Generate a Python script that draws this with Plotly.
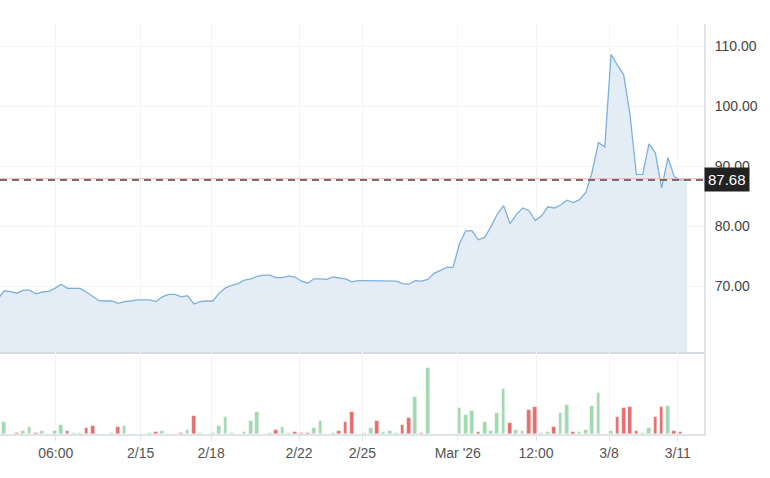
import plotly.graph_objects as go
from plotly.subplots import make_subplots

# closing price per bar (bar index 0 sits just left of the visible area)
price = [67.9, 69.2, 69.05, 68.8, 69.3, 69.3, 68.7, 69.0, 69.1, 69.6, 70.3,
         69.6, 69.6, 69.6, 69.0, 68.2, 67.55, 67.5, 67.5, 67.1, 67.4,
         67.5, 67.7, 67.7, 67.7, 67.4, 68.2, 68.6, 68.6, 68.2, 68.4,
         67.0, 67.4, 67.5, 67.5, 68.8, 69.7, 70.1, 70.4, 71.0, 71.2,
         71.6, 71.8, 71.8, 71.4, 71.4, 71.7, 71.5, 70.8, 70.5, 71.2,
         71.2, 71.1, 71.5, 71.3, 71.2, 70.7, 70.9, 70.9, 70.9, 70.8,
         70.8, 70.8, 70.8, 70.4, 70.3, 70.9, 70.8, 71.1, 72.1, 72.6,
         73.1, 73.1, 77.0, 79.2, 79.2, 77.7, 78.1, 79.9, 82.0, 83.4,
         80.4, 81.9, 83.0, 82.6, 80.9, 81.7, 83.2, 83.0, 83.5, 84.3,
         83.9, 84.4, 85.6, 89.0, 93.9, 93.2, 108.6, 106.8, 105.2, 98.5,
         88.6, 88.6, 93.7, 92.2, 86.3, 91.4, 88.2, 87.7, 87.68]

volume = [0, 12, 0, 1, 3, 7, 1, 3, 0, 3, 9.3,
          3, 1, 1, 5.7, 8, 0, 0, 1, 7, 8,
          0, 0, 0, 0.7, 2, 3, 0, 0, 0.7, 4,
          18, 0.7, 0, 0.7, 8, 16.7, 0.7, 0, 1.7, 13,
          21.7, 0, 0.7, 4.3, 7, 0.7, 2, 1, 1, 5.7,
          13, 0, 0.7, 3, 12, 21.7, 0, 0.7, 5.7, 13,
          1.7, 3, 0.7, 9, 15.7, 36.7, 0.7, 65.7, 0, 0,
          0, 0, 25.7, 19, 23, 1.7, 11.7, 3, 20.7, 44.7,
          10.7, 4, 3, 24.3, 26.7, 0.7, 1.7, 7, 20.7, 29,
          1.7, 1.7, 4, 28, 40.7, 0, 3, 17, 25.7, 26.7,
          3, 1, 5.7, 17, 26.7, 28, 3, 2, 0]

last_price = 87.68
tick_pos = [9.13, 22.58, 33.71, 47.63, 57.65, 72.74, 85.13, 96.68, 107.55]
tick_text = ["06:00", "2/15", "2/18", "2/22", "2/25", "Mar '26", "12:00", "3/8", "3/11"]
price_ticks = [70, 80, 90, 100, 110]

idx = list(range(len(price)))
bar_colors = []
for i in idx:
    if i > 0 and price[i] < price[i - 1]:
        bar_colors.append("#e36f6f")
    else:
        bar_colors.append("#a3d9b1")

fig = make_subplots(rows=2, cols=1, shared_xaxes=True, vertical_spacing=0,
                    row_heights=[0.8, 0.2])

fig.add_trace(go.Scatter(
    x=idx, y=price, mode="lines", fill="tozeroy",
    line=dict(color="#7eb0dc", width=1.3),
    fillcolor="#e4edf5", hoverinfo="skip"
), row=1, col=1)

fig.add_trace(go.Bar(
    x=idx, y=volume, width=0.58,
    marker=dict(color=bar_colors, line=dict(color="rgba(255,255,255,0.45)", width=0.6)),
    hoverinfo="skip"
), row=2, col=1)

grid = "#f3f4f7"
axis_line = "#dfe3ea"

fig.update_xaxes(range=[0.32, 111.7], tickvals=tick_pos, ticktext=tick_text,
                 showgrid=True, gridcolor=grid, zeroline=False)
fig.update_xaxes(showticklabels=False, showline=True, linecolor="#d6dbe3",
                 linewidth=2, ticks="", row=1, col=1)
fig.update_xaxes(showline=True, linecolor=axis_line, linewidth=2, ticks="outside",
                 ticklen=5, tickcolor=axis_line,
                 tickfont=dict(family="Liberation Sans, Arial", size=14, color="#555"),
                 row=2, col=1)

fig.update_yaxes(side="right", range=[59, 113.67], tickvals=price_ticks,
                 tickformat=".2f", showgrid=True, gridcolor=grid, zeroline=False,
                 showline=True, linecolor=axis_line, linewidth=2, ticks="",
                 ticklabelstandoff=6,
                 tickfont=dict(family="Liberation Sans, Arial", size=14, color="#444"),
                 row=1, col=1)
fig.update_yaxes(side="right", range=[0, 82], showticklabels=False, showgrid=False,
                 zeroline=False, showline=True, linecolor=axis_line, linewidth=2,
                 row=2, col=1)

# last price markers
fig.add_shape(type="line", xref="x domain", yref="y", x0=0, x1=1,
              y0=last_price + 0.2, y1=last_price + 0.2,
              line=dict(color="#f6b0b0", width=1))
fig.add_shape(type="line", xref="x domain", yref="y", x0=0, x1=1,
              y0=last_price, y1=last_price,
              line=dict(color="#7a6c6c", width=2, dash="7px,5px"))
fig.add_annotation(xref="paper", yref="y", x=1, y=last_price, xanchor="left",
                   text=f"{last_price:.2f}", showarrow=False,
                   bgcolor="#222222", borderpad=3,
                   font=dict(family="Liberation Sans, Arial", size=15, color="white"))

fig.update_layout(
    width=770, height=478,
    margin=dict(l=0, r=66, t=24, b=44),
    plot_bgcolor="white", paper_bgcolor="white",
    showlegend=False, bargap=0,
)

fig.write_html("out.html", config={"displayModeBar": False},
               post_script="document.body.style.margin='0';")
